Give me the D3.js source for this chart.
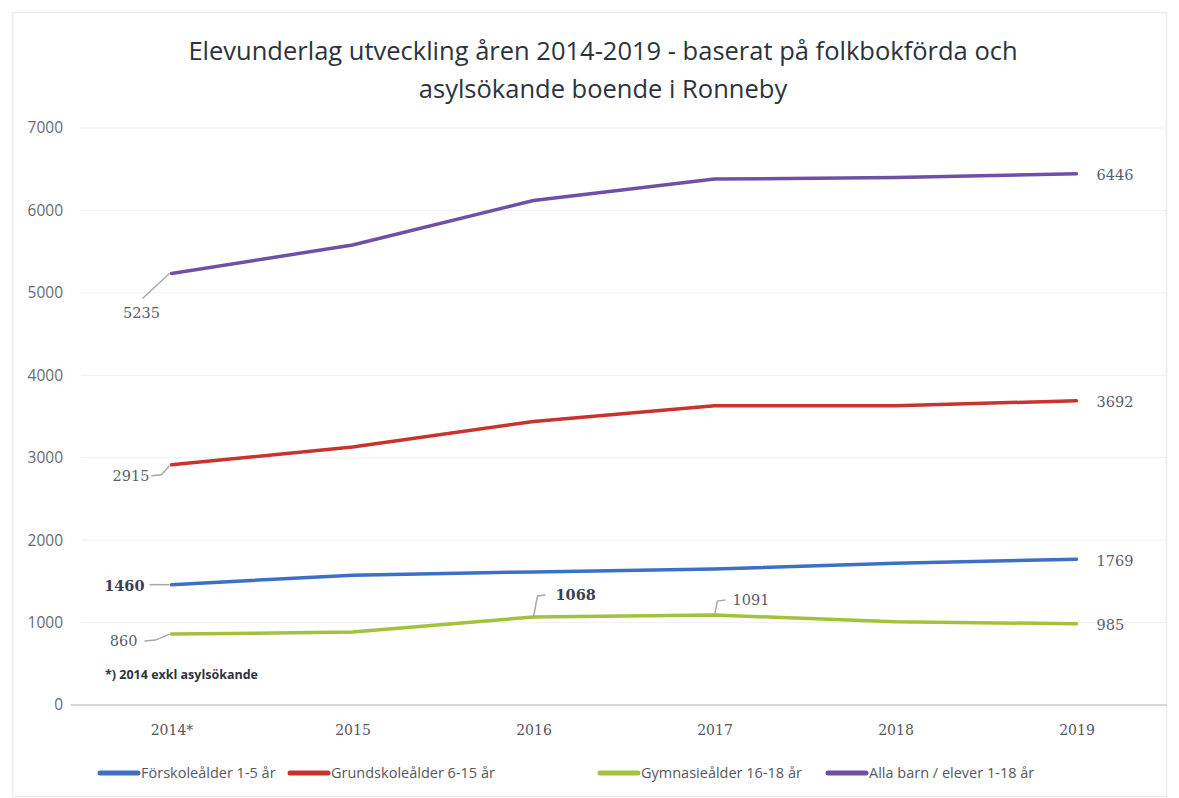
<!DOCTYPE html>
<html>
<head>
<meta charset="utf-8">
<script src="https://cdn.jsdelivr.net/npm/d3@7"></script>
<style>
  body { margin: 0; background: #fff; }
  svg { display: block; }
</style>
</head>
<body>
<div id="chart"></div>
<script>
// data
const years = ["2014*", "2015", "2016", "2017", "2018", "2019"];
const seriesNames = ["Förskoleålder 1-5 år", "Grundskoleålder 6-15 år", "Gymnasieålder 16-18 år", "Alla barn / elever 1-18 år"];
const forskola = [1460, 1575, 1615, 1650, 1720, 1769];
const grundskola = [2915, 3130, 3440, 3630, 3630, 3692];
const gymnasie = [860, 885, 1068, 1091, 1010, 985];
const allaBarn = [5235, 5580, 6120, 6380, 6400, 6446];
const yTicks = [0, 1000, 2000, 3000, 4000, 5000, 6000, 7000];

const colors = ["#3c70c4", "#c9332e", "#a3c13a", "#6e50a6"];

// which points carry a value label, and where it sits (pixel offsets from the point)
const annotations = [
    {s: 0, i: 0, dx: -27, dy: 6, anchor: "end", bold: true, leader: [[-22, 0], [-2, 0]]},
    {s: 0, i: 5, dx: 20, dy: 7},
    {s: 1, i: 0, dx: -22, dy: 16, anchor: "end", leader: [[-20, 11], [-10, 10], [-2, 1]]},
    {s: 1, i: 5, dx: 20, dy: 6},
    {s: 2, i: 0, dx: -34, dy: 12, anchor: "end", leader: [[-27, 7], [-16, 6], [-2, 0]]},
    {s: 2, i: 2, dx: 22, dy: -17, bold: true, leader: [[0, 0], [4, -21], [12, -22]]},
    {s: 2, i: 3, dx: 18, dy: -10, leader: [[0, 0], [3, -14], [11, -15]]},
    {s: 2, i: 5, dx: 20, dy: 6},
    {s: 3, i: 0, dx: -30, dy: 45, anchor: "middle", leader: [[-29, 25], [-2, 0]]},
    {s: 3, i: 5, dx: 20, dy: 6}
];

const W = 1179, H = 798;
const margin = {top: 128, right: 12, bottom: 93, left: 81};

const svg = d3.select("#chart").append("svg")
    .attr("width", W)
    .attr("height", H);

// faint frame from the scan
svg.append("rect")
    .attr("x", 12.5).attr("y", 12.5)
    .attr("width", W - 25).attr("height", H - 14)
    .attr("fill", "none")
    .attr("stroke", "#ececec")
    .attr("stroke-width", 1.5);

// title
const title = svg.append("text")
    .attr("text-anchor", "middle")
    .attr("font-family", "'Open Sans', sans-serif")
    .attr("font-size", 25.5)
    .attr("fill", "#2c333d");
title.append("tspan").attr("x", 603).attr("y", 60)
    .text("Elevunderlag utveckling åren 2014-2019 - baserat på folkbokförda och");
title.append("tspan").attr("x", 603).attr("y", 98)
    .text("asylsökande boende i Ronneby");

// scales
const x = d3.scalePoint()
    .domain(years)
    .range([margin.left, W - margin.right])
    .padding(0.5);

const y = d3.scaleLinear()
    .domain([0, 7000])
    .range([H - margin.bottom, margin.top]);

// gridlines
svg.append("g")
    .selectAll("line")
    .data(yTicks.filter(d => d > 0))
    .join("line")
    .attr("x1", margin.left)
    .attr("x2", W - margin.right)
    .attr("y1", d => y(d))
    .attr("y2", d => y(d))
    .attr("stroke", "#efefef")
    .attr("stroke-width", 1);

// y axis labels
const yAxis = svg.append("g")
    .attr("transform", `translate(${margin.left - 18},0)`)
    .call(d3.axisLeft(y).tickValues(yTicks).tickFormat(d3.format("d")).tickSize(0).tickPadding(0));
yAxis.select(".domain").remove();
yAxis.selectAll("text")
    .attr("font-family", "'Open Sans', sans-serif")
    .attr("font-size", 15.5)
    .attr("fill", "#6a6a72");

// x axis
const xAxis = svg.append("g")
    .attr("transform", `translate(0,${y(0)})`)
    .call(d3.axisBottom(x).tickSize(0).tickPadding(20));
xAxis.select(".domain")
    .attr("d", `M${margin.left - 10},0H${W - margin.right}`)
    .attr("stroke", "#d6d6d6")
    .attr("stroke-width", 2);
xAxis.selectAll("text")
    .attr("font-family", "'DejaVu Serif', serif")
    .attr("font-size", 14)
    .attr("fill", "#55555f");

// lines
const allSeries = [forskola, grundskola, gymnasie, allaBarn];
const line = d3.line()
    .x((d, i) => x(years[i]))
    .y(d => y(d));

svg.append("g")
    .selectAll("path")
    .data(allSeries)
    .join("path")
    .attr("d", line)
    .attr("fill", "none")
    .attr("stroke", (d, i) => colors[i])
    .attr("stroke-width", 3.5)
    .attr("stroke-linecap", "round")
    .attr("stroke-linejoin", "round");

// leader lines and value labels
const ann = svg.append("g");
annotations.forEach(a => {
    const px = x(years[a.i]);
    const py = y(allSeries[a.s][a.i]);
    if (a.leader) {
        ann.append("path")
            .attr("d", d3.line()(a.leader.map(p => [px + p[0], py + p[1]])))
            .attr("fill", "none")
            .attr("stroke", "#a8a8a8")
            .attr("stroke-width", 1.5);
    }
    ann.append("text")
        .attr("x", px + a.dx)
        .attr("y", py + a.dy)
        .attr("text-anchor", a.anchor || "start")
        .attr("font-family", "'DejaVu Serif', serif")
        .attr("font-size", 14.5)
        .attr("font-weight", a.bold ? "bold" : "normal")
        .attr("fill", a.bold ? "#3a3f55" : "#5a5d6e")
        .text(allSeries[a.s][a.i]);
});

// footnote
svg.append("text")
    .attr("x", 105)
    .attr("y", 679)
    .attr("font-family", "'Open Sans', sans-serif")
    .attr("font-size", 12.5)
    .attr("font-weight", "bold")
    .attr("fill", "#2f3340")
    .text("*) 2014 exkl asylsökande");

// legend
const legendX = [100, 290, 600, 828];
const legend = svg.append("g")
    .selectAll("g")
    .data(seriesNames)
    .join("g")
    .attr("transform", (d, i) => `translate(${legendX[i]},773)`);
legend.append("line")
    .attr("x1", 0).attr("x2", 38)
    .attr("stroke", (d, i) => colors[i])
    .attr("stroke-width", 5)
    .attr("stroke-linecap", "round");
legend.append("text")
    .attr("x", 41)
    .attr("y", 5)
    .attr("font-family", "'Open Sans', sans-serif")
    .attr("font-size", 14.5)
    .attr("fill", "#56565e")
    .text(d => d);
</script>
</body>
</html>
